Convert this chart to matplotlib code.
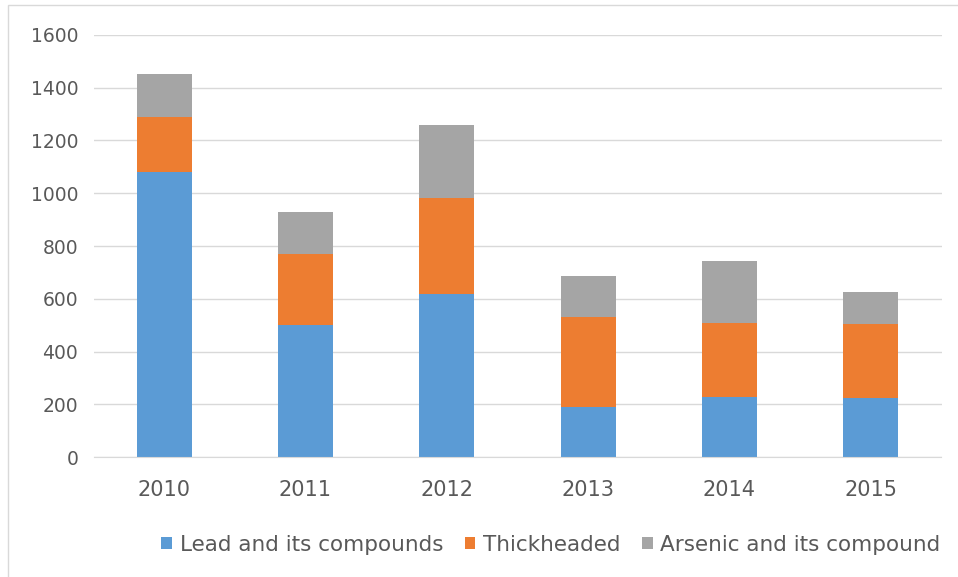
import matplotlib.pyplot as plt
from matplotlib.patches import Rectangle
import numpy as np

years = ['2010', '2011', '2012', '2013', '2014', '2015']
lead = [1080, 500, 620, 192, 230, 223]
thick = [210, 270, 360, 340, 280, 281]
arsenic = [160, 160, 280, 153, 234, 121]

series_names = ['Lead and its compounds', 'Thickheaded', 'Arsenic and its compound']
colors = ['#5b9bd5', '#ed7d31', '#a5a5a5']
text_color = '#595959'

fig = plt.figure(figsize=(9.58, 5.77), dpi=100)
ax = fig.add_axes([93.5 / 958, 1 - 457.3 / 577, 848 / 958, (457.3 - 34.7) / 577])

x = np.arange(len(years))
bottom = np.zeros(len(years))
for vals, name, c in zip([lead, thick, arsenic], series_names, colors):
    ax.bar(x, vals, width=0.39, bottom=bottom, color=c, label=name, zorder=2)
    bottom += np.array(vals)

ax.set_xlim(-0.5, len(years) - 0.5)
ax.set_ylim(0, 1600)
ax.set_yticks(range(0, 1601, 200))
ax.set_xticks(x)
ax.set_xticklabels(years)
ax.grid(axis='y', color='#d9d9d9', linewidth=1, zorder=0)
for s in ['top', 'right', 'left']:
    ax.spines[s].set_visible(False)
ax.spines['bottom'].set_color('#d9d9d9')
ax.tick_params(axis='both', length=0, colors=text_color)
ax.tick_params(axis='y', pad=11, labelsize=13.5)
ax.tick_params(axis='x', pad=16, labelsize=15)

fig.legend(loc='center left', bbox_to_anchor=(142 / 958, 1 - 545 / 577), ncol=3,
           frameon=False, fontsize=15.5, handlelength=0.5, handleheight=0.5,
           handletextpad=0.35, columnspacing=1.0, labelcolor=text_color)

# light outer border of the chart area (right and bottom fall off the image)
fig.patches.append(Rectangle((8 / 958, -0.1), 1.2, 1.1 - 5 / 577, transform=fig.transFigure,
                             fill=False, edgecolor='#d9d9d9', linewidth=1))

fig.savefig('out.png', dpi=100)
